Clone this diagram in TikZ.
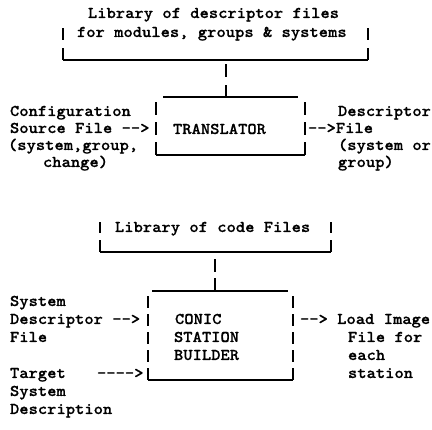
\documentclass[tikz,border=0pt]{standalone}
\usepackage{fontspec}
% heavy typewriter face: Latin Modern Mono, dark weight
\newfontfamily\typeface{lmmonolt10-bold}[Extension=.otf, FakeBold=0.6]
% hyphen that never joins its neighbour into a dash ligature
\newcommand{\tdash}{-\kern0pt}
\tikzset{
  tt/.style={anchor=base west, inner sep=0pt, outer sep=0pt,
    font=\fontsize{16.4}{18}\selectfont\typeface,
    xscale=1.08, transform shape},
  rule/.style={line width=1.5pt, line cap=butt},
  bar/.style={rule, dash pattern=on 12pt off 6pt},
}
\begin{document}
\begin{tikzpicture}[x=1pt,y=1pt]
\useasboundingbox[fill=white] (0,0) rectangle (432,-430);

% ---------- library of descriptor files ----------
\node[tt] (dlA) at (88,-18) {Library of descriptor files};
\node[tt] (dlB) at (77,-37) {for modules, groups \& systems};
\coordinate (dlTL) at (63,-28);  \coordinate (dlBL) at (63,-60);
\coordinate (dlTR) at (368,-28); \coordinate (dlBR) at (368,-60);
\draw[rule] (dlBL) -- (dlBR);
\draw[bar, dash pattern=on 12pt off 8pt] (dlBL) -- (dlTL);
\draw[bar, dash pattern=on 12pt off 8pt] (dlBR) -- (dlTR);

% stem down to the translator
\coordinate (stA) at (226,-64);
\coordinate (stB) at (226,-98);
\draw[bar, dash pattern=on 13pt off 8pt] (stB) -- (stA);

% ---------- translator ----------
\coordinate (trTL) at (163,-97);  \coordinate (trTR) at (298,-97);
\coordinate (trL1) at (156,-101); \coordinate (trL2) at (156,-155);
\coordinate (trR1) at (305,-101); \coordinate (trR2) at (305,-155);
\draw[rule] (trTL) -- (trTR);
\draw[rule] (trL2) -- (trR2);
\draw[bar, dash pattern=on 13pt off 7pt] (trL2) -- (trL1);
\draw[bar, dash pattern=on 13pt off 7pt] (trR2) -- (trR1);
\node[tt] (tr) at (173,-134) {TRANSLATOR};

% input side
\node[tt] (cfA) at (10,-116) {Configuration};
\node[tt] (cfB) at (10,-133) {Source File \tdash\tdash>};
\node[tt] (cfC) at (8,-150)  {(system,group,};
\node[tt] (cfD) at (43,-167) {change)};

% output side
\node[tt] (dsA) at (338,-116) {Descriptor};
\node[tt] (dsB) at (308,-133) {\tdash\tdash>File};
\node[tt] (dsC) at (338,-150) {(system or};
\node[tt] (dsD) at (338,-167) {group)};

% ---------- library of code files ----------
\node[tt] (clA) at (115,-232) {Library of code Files};
\coordinate (clTL) at (100,-222); \coordinate (clBL) at (100,-252);
\coordinate (clTR) at (331,-222); \coordinate (clBR) at (331,-252);
\draw[rule] (clBL) -- (clBR);
\draw[bar, dash pattern=on 12pt off 7pt] (clBL) -- (clTL);
\draw[bar, dash pattern=on 12pt off 7pt] (clBR) -- (clTR);

% stem down to the station builder
\coordinate (sbA) at (215,-258);
\coordinate (sbB) at (215,-291);
\draw[bar, dash pattern=on 13pt off 6pt] (sbB) -- (sbA);

% ---------- conic station builder ----------
\coordinate (bdTL) at (152,-291); \coordinate (bdTR) at (288,-291);
\coordinate (bdL1) at (148,-296); \coordinate (bdL2) at (148,-380);
\coordinate (bdR1) at (293,-296); \coordinate (bdR2) at (293,-380);
\draw[rule] (bdTL) -- (bdTR);
\draw[rule] (bdL2) -- (bdR2);
\draw[bar] (bdL2) -- (bdL1);
\draw[bar] (bdR2) -- (bdR1);
\node[tt] (bdA) at (175,-324) {CONIC};
\node[tt] (bdB) at (174,-342) {STATION};
\node[tt] (bdC) at (174,-360) {BUILDER};

% inputs
\node[tt] (inA) at (10,-306) {System};
\node[tt] (inB) at (10,-324) {Descriptor \tdash\tdash>};
\node[tt] (inC) at (10,-342) {File};
\node[tt] (inD) at (10,-378) {Target};
\node[tt] (inE) at (97,-378) {\tdash\tdash\tdash\tdash>};
\node[tt] (inF) at (10,-396) {System};
\node[tt] (inG) at (10,-414) {Description};

% output
\node[tt] (outA) at (300,-324) {\tdash\tdash> Load Image};
\node[tt] (outB) at (348,-342) {File for};
\node[tt] (outC) at (348,-360) {each};
\node[tt] (outD) at (348,-378) {station};
\end{tikzpicture}
\end{document}
